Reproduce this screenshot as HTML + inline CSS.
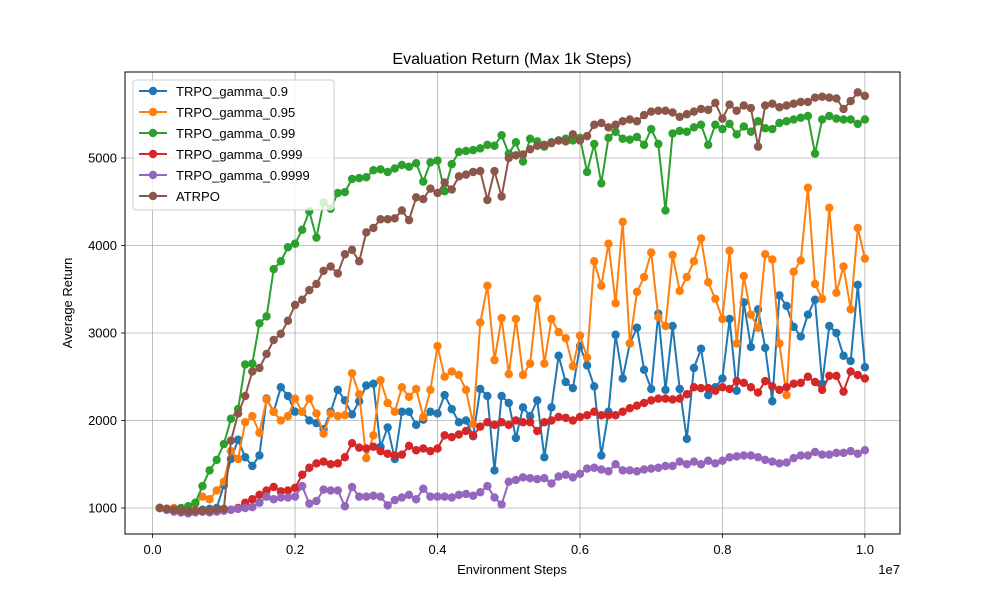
<!DOCTYPE html>
<html><head><meta charset="utf-8"><style>
body{margin:0;background:#fff;}
svg text{font-family:"Liberation Sans","DejaVu Sans",sans-serif;fill:#000;}
</style></head><body>
<svg id="chart" width="1000" height="600" viewBox="0 0 1000 600" xmlns="http://www.w3.org/2000/svg">
<rect width="1000" height="600" fill="#fff"/>
<g id="grid"></g>
<g id="series"></g>
<rect x="125" y="72" width="775" height="462" fill="none" stroke="#000" stroke-width="1"/>
<g id="ticks"></g>
<text x="512" y="64" font-size="16" text-anchor="middle">Evaluation Return (Max 1k Steps)</text>
<text x="512" y="574" font-size="13" text-anchor="middle">Environment Steps</text>
<text x="900" y="574" font-size="13" text-anchor="end">1e7</text>
<text transform="translate(72,303) rotate(-90)" font-size="13" text-anchor="middle">Average Return</text>
<g id="legend"></g>
</svg>
<script>
const xTicks=[0,0.2,0.4,0.6,0.8,1.0];
const xTickLabels=["0.0","0.2","0.4","0.6","0.8","1.0"];
const yTicks=[1000,2000,3000,4000,5000];
const yTickLabels=["1000","2000","3000","4000","5000"];
const seriesNames=["TRPO_gamma_0.9","TRPO_gamma_0.95","TRPO_gamma_0.99","TRPO_gamma_0.999","TRPO_gamma_0.9999","ATRPO"];
const seriesColors=["#1f77b4","#ff7f0e","#2ca02c","#d62728","#9467bd","#8c564b"];
const steps=[0.01,0.02,0.03,0.04,0.05,0.06,0.07,0.08,0.09,0.10,0.11,0.12,0.13,0.14,0.15,0.16,0.17,0.18,0.19,0.20,0.21,0.22,0.23,0.24,0.25,0.26,0.27,0.28,0.29,0.30,0.31,0.32,0.33,0.34,0.35,0.36,0.37,0.38,0.39,0.40,0.41,0.42,0.43,0.44,0.45,0.46,0.47,0.48,0.49,0.50,0.51,0.52,0.53,0.54,0.55,0.56,0.57,0.58,0.59,0.60,0.61,0.62,0.63,0.64,0.65,0.66,0.67,0.68,0.69,0.70,0.71,0.72,0.73,0.74,0.75,0.76,0.77,0.78,0.79,0.80,0.81,0.82,0.83,0.84,0.85,0.86,0.87,0.88,0.89,0.90,0.91,0.92,0.93,0.94,0.95,0.96,0.97,0.98,0.99,1.00];
const gamma09=[1000,980,960,950,940,960,980,990,1000,1260,1560,1780,1580,1480,1600,2250,2100,2380,2280,2100,2100,2000,1970,1900,2100,2350,2230,2070,2220,2400,2420,1700,1920,1560,2100,2100,1950,2010,2100,2080,2290,2130,1980,2000,1820,2360,2280,1430,2280,2200,1800,2150,2050,2230,1580,2150,2740,2440,2370,2850,2630,2390,1600,2100,2980,2480,2880,3060,2580,2360,3220,2350,3080,2360,1790,2600,2820,2290,2380,2480,3160,2340,3350,2840,3270,2830,2220,3430,3310,3070,2960,3210,3380,2420,3080,3000,2740,2680,3550,2610];
const gamma095=[1000,980,1000,970,990,1050,1130,1100,1200,1300,1650,1560,1980,2050,1860,2240,2100,2000,2050,2250,2100,2250,2080,1850,2080,2050,2060,2540,2300,1570,1830,2460,2200,2100,2380,2270,2360,2040,2350,2850,2500,2560,2520,2350,1960,3120,3540,2690,3170,2530,3160,2520,2650,3390,2650,3160,3010,2940,2620,2970,2720,3820,3540,4020,3340,4270,2880,3470,3640,3920,3180,3080,3890,3480,3640,3820,4080,3580,3390,3160,3940,2880,3650,3210,3060,3900,3840,2880,2290,3700,3830,4660,3560,3390,4430,3460,3760,3270,4200,3850];
const gamma099=[1000,990,980,1000,1020,1060,1250,1430,1550,1730,2020,2130,2640,2650,3110,3190,3730,3820,3980,4020,4180,4390,4090,4490,4420,4600,4610,4760,4770,4780,4860,4870,4840,4880,4920,4900,4940,4730,4950,4970,4620,4930,5070,5080,5090,5110,5150,5140,5260,5050,5180,4960,5220,5190,5130,5180,5200,5220,5200,5230,4840,5160,4710,5230,5300,5220,5210,5240,5150,5330,5160,4400,5280,5310,5300,5350,5380,5150,5380,5330,5390,5270,5360,5300,5420,5340,5330,5400,5420,5440,5460,5480,5050,5440,5480,5450,5440,5440,5390,5440];
const gamma0999=[1000,990,980,970,960,960,970,960,960,970,980,1000,1060,1100,1150,1200,1240,1190,1200,1230,1380,1460,1510,1530,1500,1510,1580,1740,1690,1680,1700,1650,1620,1600,1610,1710,1660,1680,1650,1680,1830,1810,1840,1880,1830,1930,1980,1950,1980,1950,2000,1980,1980,1880,1980,2000,2040,2030,2000,2040,2060,2100,2060,2060,2060,2100,2140,2170,2200,2230,2250,2250,2240,2250,2300,2380,2370,2370,2340,2380,2360,2450,2430,2380,2320,2450,2390,2350,2380,2420,2430,2500,2440,2350,2510,2510,2330,2560,2520,2480];
const gamma09999=[1000,980,960,950,940,950,960,950,960,970,980,990,1000,1010,1060,1130,1100,1120,1120,1130,1250,1050,1080,1210,1200,1200,1020,1240,1130,1130,1140,1130,1030,1090,1120,1150,1100,1220,1130,1130,1130,1120,1150,1160,1140,1180,1250,1120,1040,1300,1320,1350,1340,1330,1340,1280,1360,1380,1350,1390,1450,1460,1440,1420,1500,1430,1430,1420,1440,1450,1460,1480,1480,1530,1500,1530,1500,1540,1510,1540,1580,1590,1600,1600,1580,1550,1530,1510,1520,1570,1600,1600,1640,1610,1610,1630,1630,1650,1620,1660];
const atrpo=[1000,990,980,970,960,970,960,970,980,990,1770,2080,2280,2560,2600,2760,2920,2990,3140,3320,3380,3490,3560,3710,3760,3680,3900,3950,3820,4150,4200,4300,4300,4310,4400,4290,4550,4530,4650,4600,4720,4640,4790,4810,4840,4850,4520,4850,4560,5000,5030,5040,5100,5140,5150,5170,5200,5190,5270,5200,5250,5380,5400,5350,5380,5420,5440,5420,5490,5530,5540,5540,5520,5470,5500,5530,5560,5550,5630,5450,5610,5540,5600,5570,5130,5600,5620,5580,5600,5620,5640,5640,5690,5700,5690,5680,5560,5650,5750,5710];
const allSeries=[gamma09,gamma095,gamma099,gamma0999,gamma09999,atrpo];

const NS="http://www.w3.org/2000/svg";
function xs(v){return 152.6+(v)*712.3;}
function ys(v){return 508-(v-1000)*0.0875;}
function mk(tag,attrs,parent){const e=document.createElementNS(NS,tag);for(const k in attrs)e.setAttribute(k,attrs[k]);parent.appendChild(e);return e;}
const grid=document.getElementById('grid'),ticks=document.getElementById('ticks'),ser=document.getElementById('series'),leg=document.getElementById('legend');
xTicks.forEach((t,i)=>{
  const x=xs(t);
  const g=mk('line',{x1:x,x2:x,y1:72,y2:534,stroke:'#b0b0b0','stroke-width':0.8},grid);
  
  
  const tk=mk('line',{x1:x,x2:x,y1:534,y2:538,stroke:'#000','stroke-width':0.8},ticks);
  
  
  const tl=mk('text',{x:x,y:554,'font-size':13,'text-anchor':'middle'},ticks);
  tl.textContent=xTickLabels[i];
  
  
});
yTicks.forEach((t,i)=>{
  const y=ys(t);
  const g=mk('line',{x1:125,x2:900,y1:y,y2:y,stroke:'#b0b0b0','stroke-width':0.8},grid);
  
  
  const tk=mk('line',{x1:121,x2:125,y1:y,y2:y,stroke:'#000','stroke-width':0.8},ticks);
  
  
  const tl=mk('text',{x:117,y:y+4.5,'font-size':13,'text-anchor':'end'},ticks);
  tl.textContent=yTickLabels[i];
  
  
});
allSeries.forEach((vals,si)=>{
  const g=mk('g',{},ser);
  
  
  const pts=vals.map((v,i)=>xs(steps[i]).toFixed(1)+','+ys(v).toFixed(1)).join(' ');
  const pl=mk('polyline',{points:pts,fill:'none',stroke:seriesColors[si],'stroke-width':2,'stroke-linejoin':'round'},g);
  
  
  vals.forEach((v,i)=>{
    const c=mk('circle',{cx:xs(steps[i]),cy:ys(v),r:4.2,fill:seriesColors[si]},g);
    
    
  });
});
const lb=mk('rect',{x:133,y:80,width:201,height:130,rx:3,fill:'#fff','fill-opacity':0.8,stroke:'#ccc','stroke-width':1},leg);


seriesNames.forEach((n,i)=>{
  const y=91+i*21;
  const g=mk('g',{},leg);
  
  
  mk('line',{x1:139,x2:167,y1:y,y2:y,stroke:seriesColors[i],'stroke-width':2},g);
  mk('circle',{cx:153,cy:y,r:4.2,fill:seriesColors[i]},g);
  const t=mk('text',{x:176,y:y+5,'font-size':13},g);
  t.textContent=n;
});
</script>
</body></html>
